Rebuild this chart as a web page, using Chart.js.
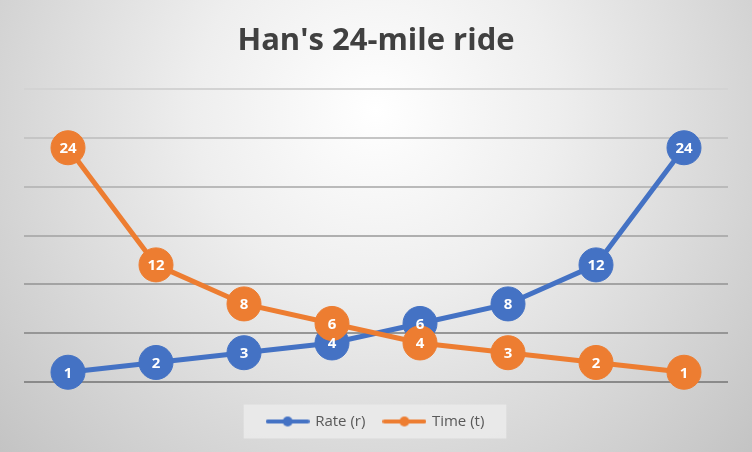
<!DOCTYPE html>
<html>
<head>
<meta charset="utf-8">
<script src="https://cdn.jsdelivr.net/npm/chart.js@4.4.1/dist/chart.umd.min.js"></script>
<style>
  html, body { margin: 0; padding: 0; background: #e0e0e0; }
  #wrap { width: 752px; height: 452px; }
</style>
</head>
<body>
<div id="wrap"><canvas id="ride-chart"></canvas></div>
<script>
const categories = ['1', '2', '3', '4', '5', '6', '7', '8'];
const rateValues = [1, 2, 3, 4, 6, 8, 12, 24];
const timeValues = [24, 12, 8, 6, 4, 3, 2, 1];
const yTicks = [0, 5, 10, 15, 20, 25, 30];

const BLUE = '#4472C4';
const ORANGE = '#ED7D31';
const FONT = '"Open Sans", "Noto Sans", sans-serif';

// legend marker: short line with a dot in the middle
const legendMarker = (color) => {
    const c = document.createElement('canvas');
    c.width = 44;
    c.height = 12;
    const g = c.getContext('2d');
    g.strokeStyle = color;
    g.lineWidth = 4;
    g.lineCap = 'round';
    g.beginPath();
    g.moveTo(2, 6);
    g.lineTo(42, 6);
    g.stroke();
    g.fillStyle = color;
    g.beginPath();
    g.arc(22, 6, 5, 0, Math.PI * 2);
    g.fill();
    return c;
}

// gradient background + legend box
const backgroundPlugin = {
    id: 'background',
    beforeDraw(chart) {
        const { ctx, width, height } = chart;
        ctx.save();
        const grad = ctx.createRadialGradient(376, 110, 0, 376, 110, 520);
        grad.addColorStop(0, '#ffffff');
        grad.addColorStop(0.35, '#eeeeee');
        grad.addColorStop(1, '#c2c2c2');
        ctx.fillStyle = grad;
        ctx.fillRect(0, 0, width, height);

        const boxes = chart.legend && chart.legend.legendHitBoxes;
        if (boxes && boxes.length) {
            const first = boxes[0];
            const last = boxes[boxes.length - 1];
            const cy = first.top + first.height / 2;
            ctx.fillStyle = 'rgba(235, 235, 235, 0.85)';
            ctx.fillRect(first.left - 24, cy - 17, last.left + last.width - first.left + 46, 34);
        }
        ctx.restore();
    }
}

// value labels inside the markers
const pointLabelsPlugin = {
    id: 'pointLabels',
    afterDatasetsDraw(chart) {
        const { ctx } = chart;
        ctx.save();
        ctx.font = 'bold 15px ' + FONT;
        ctx.fillStyle = '#ffffff';
        ctx.textAlign = 'center';
        ctx.textBaseline = 'middle';
        chart.data.datasets.forEach((ds, i) => {
            const meta = chart.getDatasetMeta(i);
            meta.data.forEach((pt, j) => {
                ctx.fillText(String(ds.data[j]), pt.x, pt.y + 1);
            });
        });
        ctx.restore();
    }
}

const gridColors = ['#8a8a8a', '#969696', '#a3a3a3', '#afafaf', '#bababa', '#c5c5c5', '#d3d3d3'];

const ctx = document.getElementById('ride-chart').getContext('2d');
new Chart(ctx, {
    type: 'line',
    data: {
        labels: categories,
        datasets: [{
            label: 'Rate (r)',
            data: rateValues,
            borderColor: BLUE,
            backgroundColor: BLUE,
            borderWidth: 5,
            pointRadius: 17,
            pointHoverRadius: 17,
            pointBorderWidth: 1,
            pointBackgroundColor: BLUE,
            pointBorderColor: BLUE,
            tension: 0,
            clip: false,
            order: 2,
        }, {
            label: 'Time (t)',
            data: timeValues,
            borderColor: ORANGE,
            backgroundColor: ORANGE,
            borderWidth: 5,
            pointRadius: 17,
            pointHoverRadius: 17,
            pointBorderWidth: 1,
            pointBackgroundColor: ORANGE,
            pointBorderColor: ORANGE,
            tension: 0,
            clip: false,
            order: 1,
        }]
    },
    options: {
        responsive: true,
        maintainAspectRatio: false,
        animation: false,
        layout: {
            padding: { left: 24, right: 24, top: 0, bottom: 13 }
        },
        plugins: {
            title: {
                display: true,
                text: "Han's 24-mile ride",
                color: '#404040',
                font: { family: FONT, size: 31, weight: 'bold' },
                padding: { top: 23, bottom: 29 }
            },
            legend: {
                display: true,
                position: 'bottom',
                labels: {
                    color: '#595959',
                    font: { family: FONT, size: 15 },
                    usePointStyle: true,
                    pointStyleWidth: 40,
                    padding: 19,
                    generateLabels: (chart) => chart.data.datasets.map((ds, i) => ({
                        text: ds.label,
                        fontColor: '#595959',
                        pointStyle: legendMarker(ds.borderColor),
                        fillStyle: ds.borderColor,
                        strokeStyle: ds.borderColor,
                        lineWidth: 0,
                        hidden: false,
                        datasetIndex: i
                    }))
                }
            },
            tooltip: { enabled: false }
        },
        scales: {
            x: {
                display: true,
                offset: true,
                grid: { display: false, drawTicks: false },
                border: { display: false },
                ticks: { display: false },
                afterFit: (scale) => { scale.height = 13; }
            },
            y: {
                min: yTicks[0],
                max: yTicks[yTicks.length - 1],
                afterBuildTicks: (scale) => {
                    scale.ticks = yTicks.map(v => ({ value: v }));
                },
                grid: {
                    drawTicks: false,
                    lineWidth: 2,
                    color: (c) => gridColors[yTicks.indexOf(c.tick.value)] || '#b0b0b0'
                },
                border: { display: false },
                ticks: { display: false }
            }
        }
    },
    plugins: [backgroundPlugin, pointLabelsPlugin]
});
</script>
</body>
</html>
